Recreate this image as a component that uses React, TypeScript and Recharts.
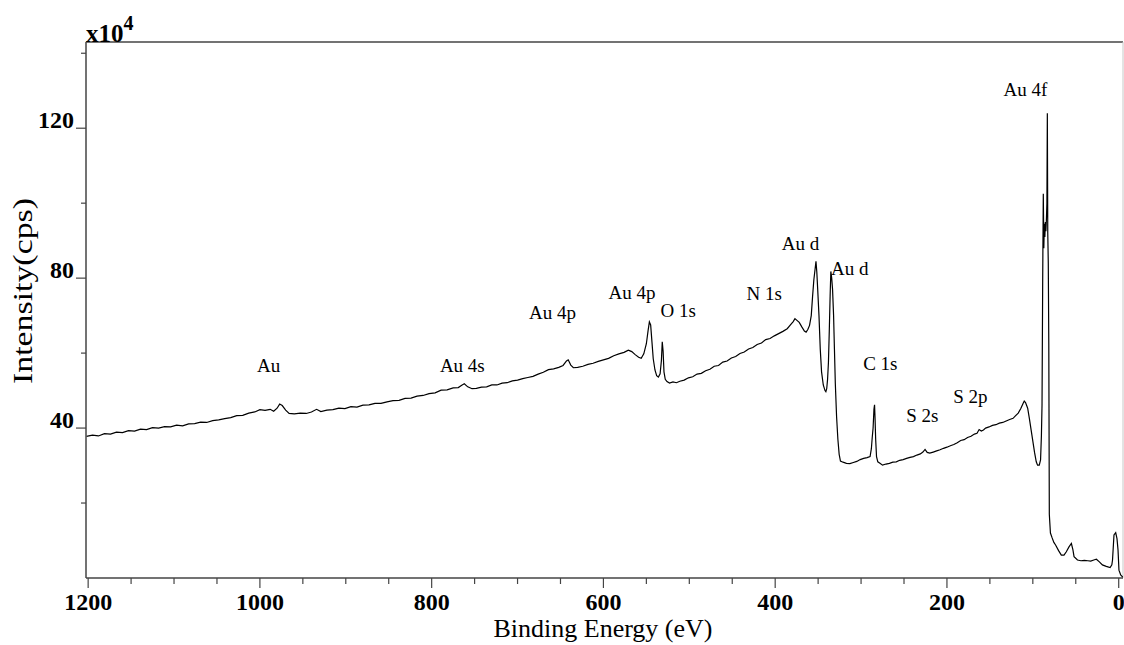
import { LineChart, Line, XAxis, YAxis, ReferenceLine, ReferenceDot } from 'recharts';

// XPS survey spectrum (binding energy in eV, counts in 1e4 cps)
const bindingEnergy = [
  1202, 1195, 1188, 1181, 1174, 1167, 1160, 1153, 1146, 1139, 1132, 1125, 1118, 1111, 1104, 1097, 1090, 1083, 1076, 1069,
  1062, 1055, 1048, 1041, 1034, 1027, 1020, 1013, 1006, 1000, 994, 988, 984, 980, 977, 974, 970, 966, 960, 953,
  946, 940, 934, 929, 922, 915, 908, 901, 894, 887, 880, 873, 866, 859, 852, 845, 838, 831, 824, 817,
  810, 803, 796, 789, 782, 775, 769, 765, 762, 758, 753, 748, 742, 736, 730, 724, 718, 712, 706, 700,
  694, 688, 682, 676, 670, 664, 658, 652, 647, 643, 641, 638, 635, 630, 624, 618, 612, 606, 600, 594,
  588, 582, 576, 571, 567, 563, 559, 556, 553, 550, 548, 546.5, 545, 543.5, 542, 540, 538, 536, 534, 532.5,
  531.5, 530.5, 529.5, 528, 526, 523, 519, 515, 511, 506, 501, 496, 491, 486, 481, 476, 471, 466, 461, 456,
  451, 446, 441, 436, 431, 426, 421, 416, 411, 406, 401, 396, 391, 386, 382, 379, 377, 375, 372, 369,
  366, 364, 362, 360, 358, 356.5, 355, 353.5, 352.5, 351.5, 350.5, 349, 347.5, 346, 344, 342, 341, 340, 339, 338,
  337, 336, 335.2, 334.2, 333.2, 332, 331, 330, 328.5, 327, 325.5, 324, 321, 317, 313, 309, 305, 301, 297, 293,
  289.5, 288, 287, 286, 285, 284.3, 283.7, 283, 282, 280.5, 278, 275, 271, 267, 263, 259, 255, 251, 247, 243,
  239, 235, 231, 228, 225.5, 223, 220, 216, 212, 208, 204, 200, 196, 192, 188, 184, 180, 176, 172, 168,
  165, 162.5, 160, 157.5, 155, 151, 147, 143, 139, 135, 131, 127, 123, 120, 117, 114, 111.5, 110, 108.5, 106,
  104, 102, 100, 98, 96, 94.5, 92.5, 91, 90, 89.3, 88.5, 87.8, 87.2, 86.6, 86, 85.4, 84.8, 84.2, 83.6, 83.1,
  82.6, 82, 81.4, 80.8, 79.5, 77.5, 75.5, 73.5, 70, 66.8, 63.7, 61, 57.9, 55.1, 53.3, 52, 48, 44, 40, 36,
  32.6, 29, 26, 22.5, 19, 14.5, 10, 8, 7.2, 5.5, 3.5, 2, 0.8, -0.3, -2.3, -5,
];

const intensity = [
  37.8, 38.1, 37.9, 38.5, 38.4, 38.9, 38.8, 39.3, 39.2, 39.7, 39.6, 40.1, 40.0, 40.4, 40.3, 40.8, 40.6, 41.1, 41.2, 41.6,
  41.5, 42.0, 42.2, 42.5, 42.8, 43.3, 43.4, 44.0, 44.3, 44.9, 44.7, 45.0, 44.5, 45.3, 46.4, 46.0, 44.8, 43.9, 43.8, 44.0,
  43.9, 44.3, 45.0, 44.4, 44.8, 44.9, 45.3, 45.2, 45.7, 45.6, 46.1, 46.2, 46.6, 46.6, 47.0, 47.3, 47.4, 47.9, 48.0, 48.5,
  48.7, 49.2, 49.4, 50.1, 50.2, 50.7, 50.8, 51.4, 51.8, 51.0, 50.5, 50.6, 50.9, 51.0, 51.5, 51.5, 52.0, 52.1, 52.6, 52.8,
  53.2, 53.5, 53.8, 54.4, 54.9, 55.6, 55.8, 56.2, 56.7, 57.9, 58.2, 56.8, 56.1, 56.2, 56.5, 57.0, 57.3, 57.8, 58.2, 58.6,
  59.3, 59.8, 60.2, 60.8, 60.4, 59.6, 58.9, 58.6, 59.8, 62.5, 66.0, 68.3, 67.5, 63.0, 58.5, 55.5, 54.0, 53.6, 54.5, 58.0,
  63.0, 60.5, 55.0, 53.0, 52.4, 52.0, 52.3, 52.1, 52.5, 52.8, 53.4, 53.7, 54.4, 54.6, 55.3, 55.7, 56.5, 56.7, 57.6, 57.9,
  58.7, 59.1, 59.9, 60.3, 61.1, 61.5, 62.3, 62.7, 63.6, 63.9, 64.6, 65.2, 65.8, 66.5, 67.6, 68.4, 69.2, 68.8, 68.2, 67.0,
  65.9, 65.6, 66.3, 67.4, 70.0, 75.0, 79.5, 82.5, 84.5, 81.5, 77.0, 70.0, 61.0, 55.0, 51.5, 50.0, 49.7, 50.5, 53.0, 57.5,
  66.0, 75.5, 81.8, 80.0, 77.0, 70.0, 61.0, 52.0, 43.0, 37.0, 33.0, 31.2, 30.9, 30.6, 30.5, 30.8, 31.1, 31.6, 31.9, 32.1,
  32.4, 34.5, 37.5, 40.0, 45.0, 46.2, 42.5, 37.0, 32.4, 31.0, 30.6, 30.1, 30.4, 30.6, 30.9, 31.0, 31.4, 31.6, 31.9, 32.2,
  32.4, 32.8, 33.1, 33.6, 34.3, 33.5, 33.3, 33.6, 33.9, 34.2, 34.6, 34.9, 35.3, 35.6, 36.1, 36.7, 36.9, 37.5, 37.8, 38.4,
  38.6, 39.6, 39.2, 39.5, 40.0, 40.3, 40.7, 40.9, 41.3, 41.5, 41.9, 42.3, 42.6, 43.3, 44.0, 45.2, 46.5, 47.2, 46.8, 45.3,
  42.5, 39.5, 36.5, 33.5, 31.0, 30.1, 30.1, 31.5, 38.0, 46.0, 80.0, 102.5, 88.0, 94.5, 91.0, 95.0, 92.5, 95.5, 100.0, 124.0,
  92.0, 84.0, 62.0, 17.0, 12.0, 10.7, 9.5, 8.8, 7.3, 6.1, 6.1, 7.0, 8.3, 9.2, 7.5, 5.7, 4.8, 4.6, 4.7, 4.6,
  4.5, 4.8, 5.0, 4.3, 3.5, 3.1, 2.8, 3.5, 4.8, 11.5, 12.1, 10.5, 7.5, 2.1, 0.8, 0.2,
];

const xTicks = [
  1200, 1150, 1100, 1050, 1000, 950, 900, 850, 800, 750, 700, 650, 600,
  550, 500, 450, 400, 350, 300, 250, 200, 150, 100, 50, 0,
];
const yTicks = [20, 40, 60, 80, 100, 120, 140];

// peak annotations (text centre in data coordinates)
const peakLabels = ['Au', 'Au 4s', 'Au 4p', 'Au 4p', 'O 1s', 'N 1s', 'Au d', 'Au d', 'C 1s', 'S 2s', 'S 2p', 'Au 4f'];
const peakLabelEnergy = [989.8, 764.3, 659.4, 566.6, 513, 412.8, 370.5, 313.2, 277.6, 228.7, 172.8, 108.7];
const peakLabelIntensity = [56.8, 56.7, 70.9, 76.2, 71.5, 76.1, 89.3, 82.7, 57.3, 43.5, 48.4, 130.5];

const spectrum = bindingEnergy.map((be, i) => ({ be, cps: intensity[i] }));

const FONT = '"Liberation Serif", "Times New Roman", serif';
const AXIS = '#444';
const W = 1124;
const H = 645;

const XTick = ({ x, y, payload }: any) => {
  const major = payload.value % 200 === 0;
  return (
    <g>
      <line x1={x} x2={x} y1={y} y2={y + (major ? 10 : 6)} stroke={AXIS} strokeWidth={1.2} />
      {major && (
        <text x={x} y={y + 32} textAnchor="middle" fontFamily={FONT} fontWeight="bold" fontSize={24} fill="#000">
          {payload.value}
        </text>
      )}
    </g>
  );
};

const YTick = ({ x, y, payload }: any) => {
  const major = payload.value % 40 === 0;
  return (
    <g>
      <line x1={x} x2={x - (major ? 10 : 5)} y1={y} y2={y} stroke={AXIS} strokeWidth={1.2} />
      {major && (
        <text x={x - 12} y={y} textAnchor="end" fontFamily={FONT} fontWeight="bold" fontSize={24} fill="#000">
          {payload.value}
        </text>
      )}
    </g>
  );
};

export default function App() {
  return (
    <div style={{ position: 'absolute', left: 0, top: 0, width: W, height: H, overflow: 'hidden' }}>
      <LineChart width={W} height={H} data={spectrum} margin={{ top: 42, right: 1, bottom: 0, left: 0 }}>
        <XAxis
          dataKey="be"
          type="number"
          domain={[-5, 1202.5]}
          allowDataOverflow
          reversed
          ticks={xTicks}
          interval={0}
          tickSize={0}
          tickMargin={0}
          tick={<XTick />}
          height={67}
          axisLine={{ stroke: AXIS, strokeWidth: 1.5 }}
        />
        <YAxis
          type="number"
          domain={[0, 143]}
          allowDataOverflow
          ticks={yTicks}
          interval={0}
          tickSize={0}
          tickMargin={0}
          tick={<YTick />}
          width={86}
          axisLine={{ stroke: AXIS, strokeWidth: 1.5 }}
        />
        <ReferenceLine y={143} stroke={AXIS} strokeWidth={1.5} />
        <ReferenceLine x={-5} stroke="#c8c8c8" strokeWidth={1} />
        <Line
          dataKey="cps"
          type="linear"
          dot={false}
          stroke="#000"
          strokeWidth={1.2}
          isAnimationActive={false}
        />
        {peakLabels.map((t, i) => (
          <ReferenceDot
            key={t + i}
            x={peakLabelEnergy[i]}
            y={peakLabelIntensity[i]}
            r={0}
            fill="none"
            stroke="none"
            label={{ value: t, position: 'center', fontSize: 19, fill: '#000', fontFamily: FONT }}
          />
        ))}
      </LineChart>
      <svg width={W} height={H} style={{ position: 'absolute', left: 0, top: 0, pointerEvents: 'none' }}>
        <text x={86} y={42} fontFamily={FONT} fontWeight="bold" fontSize={25} fill="#000">
          x10
          <tspan fontSize={20} dy={-12}>4</tspan>
        </text>
        <text x={603} y={637} textAnchor="middle" fontFamily={FONT} fontSize={26} fill="#000">
          Binding Energy (eV)
        </text>
        <text
          x={0}
          y={0}
          transform="translate(32 384) rotate(-90)"
          fontFamily={FONT}
          fontSize={28}
          textLength={186}
          lengthAdjust="spacingAndGlyphs"
          fill="#000"
        >
          Intensity(cps)
        </text>
      </svg>
    </div>
  );
}
